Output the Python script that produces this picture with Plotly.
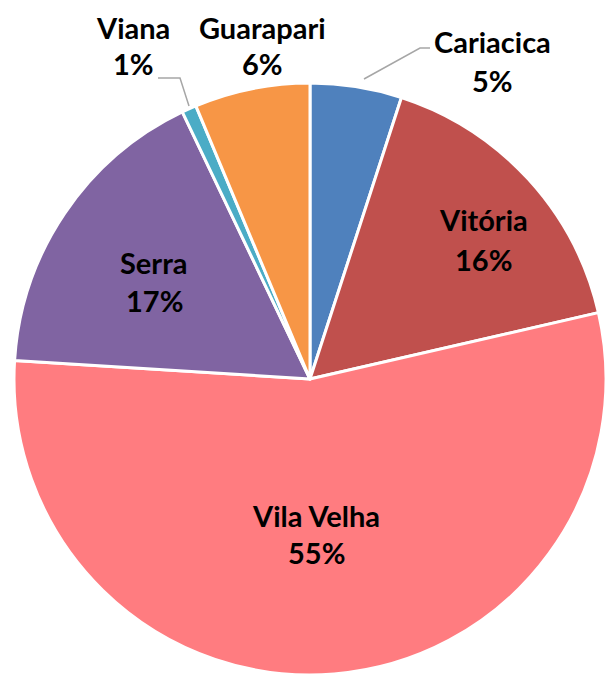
import plotly.graph_objects as go

categories = ["Cariacica", "Vitória", "Vila Velha", "Serra", "Viana", "Guarapari"]
values = [5.0, 16.4, 54.6, 16.9, 0.8, 6.3]
colors = ["#4F81BD", "#C0504D", "#FF7C80", "#8064A2", "#4BACC6", "#F79646"]

# page body has an 8px margin; work in window pixels and convert
OFF = 8
W, H = 598, 670
total = sum(values)
pct = [f"{round(v / total * 100)}%" for v in values]


def px(x):
    return (x - OFF) / W


def py(y):
    return 1 - (y - OFF) / H


fig = go.Figure(go.Pie(
    labels=categories, values=values, sort=False, direction="clockwise", rotation=0,
    marker=dict(colors=colors, line=dict(color="white", width=3)),
    textinfo="none", hoverinfo="label+percent", showlegend=False,
    domain=dict(x=[max(0, px(14)), 1], y=[max(0, py(675)), py(83)]),
))

# label positions (window-pixel centers of name line and percent line)
label_pos = {
    "Cariacica": (492, 41, 80),
    "Vitória": (483, 220, 259),
    "Vila Velha": (316, 515, 552),
    "Serra": (154, 262, 300),
    "Viana": (133, 28, 63),
    "Guarapari": (262, 28, 63),
}
font = dict(family="Lato", size=29, color="black")
for name, p in zip(categories, pct):
    x, y1, y2 = label_pos[name]
    for txt, yy in ((f"<b>{name}</b>", y1), (f"<b>{p}</b>", y2)):
        fig.add_annotation(x=px(x), y=py(yy), xref="paper", yref="paper",
                           text=txt, showarrow=False, font=font, borderpad=0,
                           xanchor="center", yanchor="middle")

# leader lines
leaders = [
    [(364, 79), (420, 48), (430, 48)],
    [(189, 106), (180, 78), (158, 78)],
]
for pts in leaders:
    path = "M " + " L ".join(f"{px(x)},{py(y)}" for x, y in pts)
    fig.add_shape(type="path", path=path, xref="paper", yref="paper",
                  line=dict(color="#A6A6A6", width=1.5))

fig.update_layout(width=W, height=H, margin=dict(l=0, r=0, t=0, b=0),
                  paper_bgcolor="white", plot_bgcolor="white")
fig.write_html("out.html")
